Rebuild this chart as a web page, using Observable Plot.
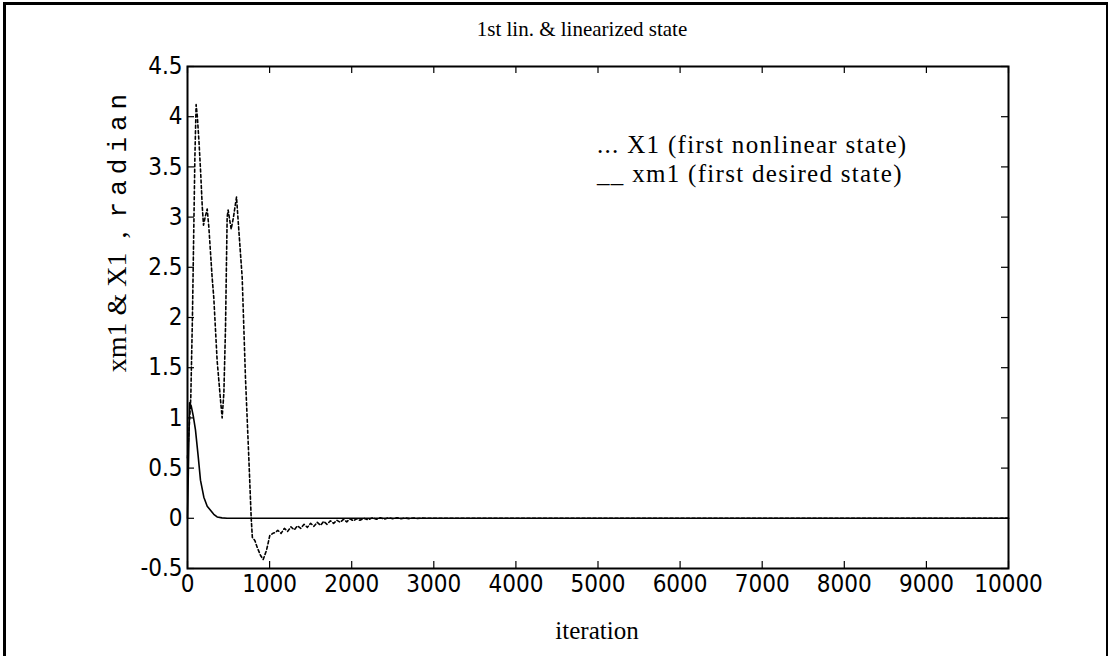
<!DOCTYPE html>
<html>
<head>
<meta charset="utf-8">
<script src="https://cdn.jsdelivr.net/npm/d3@7"></script>
<script src="https://cdn.jsdelivr.net/npm/@observablehq/plot@0.6"></script>
<style>
  html, body { margin: 0; padding: 0; background: #fff; }
  #wrap { position: relative; width: 1110px; height: 656px; overflow: hidden; background: #fff; }
  #border { position: absolute; left: 3px; top: 2px; width: 1100px; height: 700px;
            border-left: 3px solid #000; border-top: 3px solid #000; border-right: 2px solid #000; }
  #chart { position: absolute; left: 0; top: 0; }
  .serif { font-family: "Liberation Serif", "Times New Roman", serif; color: #000; position: absolute; white-space: nowrap; }
  #title { left: 582px; top: 17px; transform: translateX(-50%); font-size: 21px; }
  #xlabel { left: 597px; top: 617px; transform: translateX(-50%); font-size: 25px; }
  #ylabel { left: 117px; top: 230px; transform: translate(-50%, -50%) rotate(-90deg); font-size: 28px; }
  #ylabel .mono { font-family: "Liberation Mono", "DejaVu Sans Mono", monospace; font-size: 26px; letter-spacing: 6px; }
  #legend { left: 597px; top: 130px; font-size: 25px; line-height: 29px; letter-spacing: 1.3px; }
</style>
</head>
<body>
<div id="wrap">
  <div id="border"></div>
  <div id="chart"></div>
  <div id="title" class="serif">1st lin. &amp; linearized state</div>
  <div id="xlabel" class="serif">iteration</div>
  <div id="ylabel" class="serif">xm1 &amp; X1&nbsp; , &nbsp;<span class="mono">radian</span></div>
  <div id="legend" class="serif">
    <div>... X1 (first nonlinear state)</div>
    <div>__ xm1 (first desired state)</div>
  </div>
</div>
<script>
// Axis ticks
const xTicks = [0, 1000, 2000, 3000, 4000, 5000, 6000, 7000, 8000, 9000, 10000];
const yTicks = [-0.5, 0, 0.5, 1, 1.5, 2, 2.5, 3, 3.5, 4, 4.5];

// xm1: first desired state (solid)
const xm1Iter = [0, 25, 45, 70, 97, 130, 158, 199, 240, 280, 320, 361, 420, 483, 600, 10000];
const xm1Val  = [0, 1.15, 1.12, 1.02, 0.88, 0.62, 0.38, 0.21, 0.12, 0.08, 0.04, 0.013, 0.004, 0, 0, 0];

// X1: first nonlinear state (dotted)
const x1Iter = [0, 40, 60, 75, 90, 105, 120, 140, 160, 180, 195, 215, 240, 260, 300, 320, 361, 402, 422,
  443, 463, 475, 483, 495, 532, 560, 597, 625, 666, 706, 747, 776, 790, 820, 849, 890, 922, 962, 1003,
  1040, 1072, 1100, 1140, 1180, 1220, 1260, 1300, 1340, 1380, 1420, 1460, 1500, 1540, 1580, 1620, 1660,
  1700, 1740, 1780, 1820, 1860, 1900, 1940, 1980, 2020, 2060, 2100, 2150, 2200, 2250, 2300, 2350, 2400,
  2450, 2500, 2550, 2600, 2650, 2700, 2750, 2800, 2850, 2900, 3000, 10000];
const x1Val = [0.6, 1.2, 2.0, 2.8, 3.6, 4.12, 4.0, 3.75, 3.45, 3.1, 2.92, 3.0, 3.08, 2.9, 2.4, 2.2, 1.57, 1.18, 1.0,
  1.25, 1.9, 2.57, 3.0, 3.07, 2.88, 3.0, 3.2, 2.87, 2.4, 1.4, 0.6, 0, -0.19, -0.22, -0.29, -0.37, -0.41, -0.32, -0.17,
  -0.15, -0.14, -0.12, -0.15, -0.10, -0.13, -0.085, -0.115, -0.075, -0.10, -0.06, -0.09, -0.05, -0.08, -0.04, -0.07, -0.03,
  -0.06, -0.025, -0.05, -0.02, -0.04, -0.01, -0.035, -0.005, -0.025, -0.005, -0.02, 0.0, -0.015, 0.005, -0.01, 0.005, -0.008,
  0.006, -0.005, 0.005, -0.004, 0.004, -0.003, 0.003, -0.002, 0.002, 0, 0, 0];

const xm1 = xm1Iter.map((t, i) => ({t, v: xm1Val[i]}));
const x1 = x1Iter.map((t, i) => ({t, v: x1Val[i]}));

const W = 1110, H = 656;
const mL = 187, mR = 102, mT = 66, mB = 88;
const frameW = W - mL - mR, frameH = H - mT - mB;
const tickLen = 7;
const fmt = d => String(d);

const chart = Plot.plot({
  width: W,
  height: H,
  marginLeft: mL,
  marginRight: mR,
  marginTop: mT,
  marginBottom: mB,
  x: {domain: [0, 10000]},
  y: {domain: [-0.5, 4.5]},
  style: {
    fontFamily: '"DejaVu Sans Condensed", "Liberation Sans Narrow", sans-serif',
    background: "transparent",
    color: "#000"
  },
  marks: [
    Plot.axisX(xTicks, {tickSize: 0, tickPadding: 6, label: null, fontSize: 24, tickFormat: fmt}),
    Plot.axisY(yTicks, {tickSize: 0, tickPadding: 5, label: null, fontSize: 24, tickFormat: fmt}),
    // inward ticks on all four sides
    Plot.tickX(xTicks, {x: d => d, insetTop: frameH - tickLen, stroke: "#000", strokeWidth: 1.2}),
    Plot.tickX(xTicks, {x: d => d, insetBottom: frameH - tickLen, stroke: "#000", strokeWidth: 1.2}),
    Plot.tickY(yTicks, {y: d => d, insetRight: frameW - tickLen, stroke: "#000", strokeWidth: 1.2}),
    Plot.tickY(yTicks, {y: d => d, insetLeft: frameW - tickLen, stroke: "#000", strokeWidth: 1.2}),
    Plot.line(xm1, {x: "t", y: "v", stroke: "#000", strokeWidth: 1.6}),
    Plot.line(x1, {x: "t", y: "v", stroke: "#000", strokeWidth: 1.6, strokeDasharray: "3,2.5"}),
    Plot.frame({stroke: "#000", strokeWidth: 2})
  ]
});
document.getElementById("chart").appendChild(chart);
</script>
</body>
</html>
